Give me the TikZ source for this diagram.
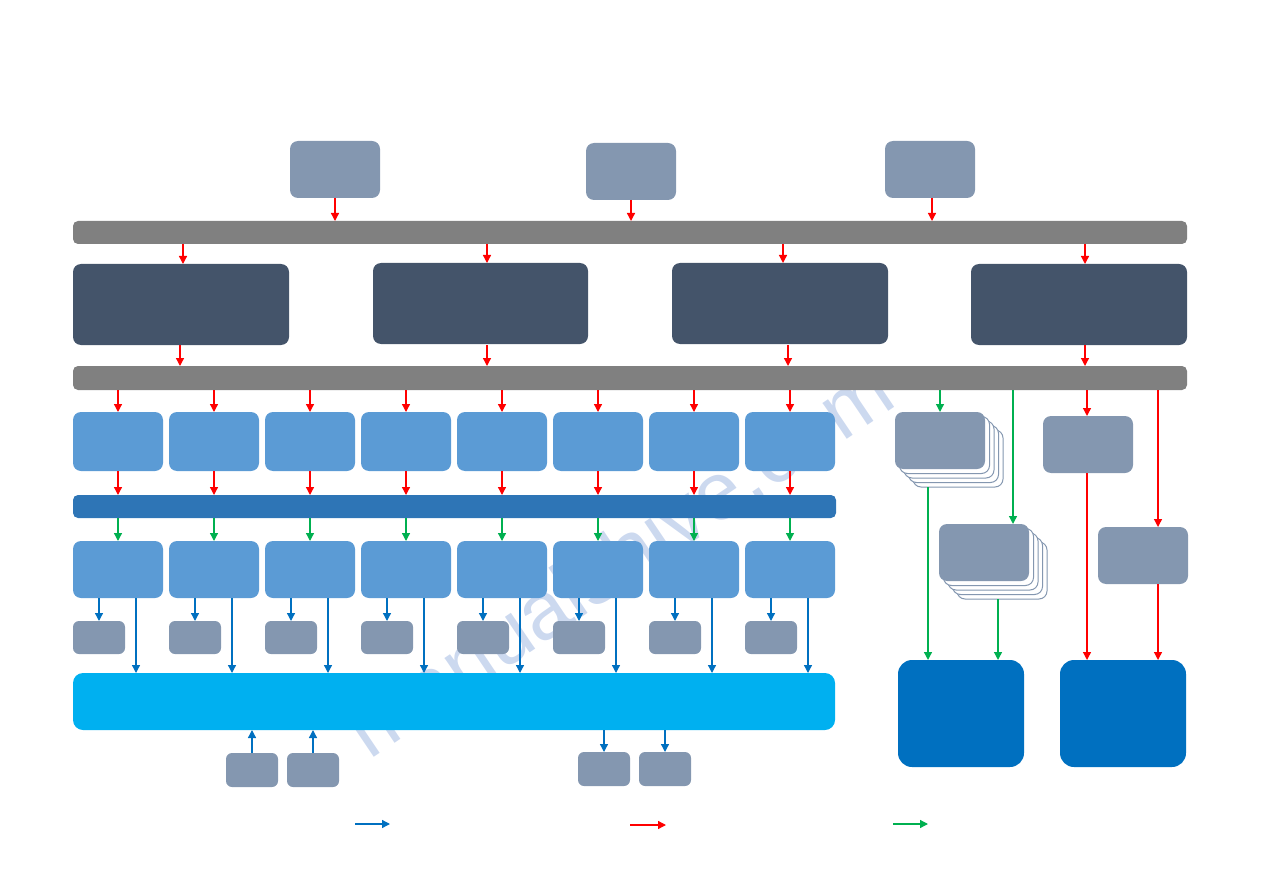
\documentclass[tikz,border=0pt]{standalone}
\usepackage{fontspec}
\setmainfont{Liberation Sans}
\usetikzlibrary{arrows.meta,calc}
\definecolor{gblue}{HTML}{8497B0}
\definecolor{barg}{HTML}{808080}
\definecolor{dslate}{HTML}{44546A}
\definecolor{mblue}{HTML}{5B9BD5}
\definecolor{bbar}{HTML}{2E75B6}
\definecolor{cyanbar}{HTML}{00B0F0}
\definecolor{dblue}{HTML}{0070C0}
\definecolor{ared}{HTML}{FF0000}
\definecolor{agreen}{HTML}{00B050}
\definecolor{ablue}{HTML}{0070C0}
\definecolor{wmark}{HTML}{8FAADC}
\tikzset{
  box/.style={rounded corners=8pt, inner sep=0pt, outer sep=0pt, anchor=north west, draw=none},
  redarr/.style={draw=ared, line width=1.3pt, -{Triangle[width=8pt,length=8pt]}},
  greenarr/.style={draw=agreen, line width=1.3pt, -{Triangle[width=8pt,length=8pt]}},
  bluearr/.style={draw=ablue, line width=1.3pt, -{Triangle[width=8pt,length=8pt]}},
  stackcopy/.style={box, fill=white, draw=gblue, line width=1pt},
}
\begin{document}
\begin{tikzpicture}[x=1pt,y=-1pt]
\useasboundingbox (0,0) rectangle (1263,893);
% watermark
\node[text=wmark, opacity=0.45, rotate=34, font=\fontsize{82}{82}\selectfont] (wm) at (618,558) {manualshive.com};
% top boxes
\node[box, fill=gblue, minimum width=90pt, minimum height=57pt] (t1) at (290,141) {};
\node[box, fill=gblue, minimum width=90pt, minimum height=57pt] (t2) at (586,143) {};
\node[box, fill=gblue, minimum width=90pt, minimum height=57pt] (t3) at (885,141) {};
% bars
\node[box, rounded corners=5pt, fill=barg, minimum width=1114pt, minimum height=23pt] (bar1) at (73,221) {};
\node[box, rounded corners=5pt, fill=barg, minimum width=1114pt, minimum height=24pt] (bar2) at (73,366) {};
\node[box, rounded corners=5pt, fill=bbar, minimum width=763pt, minimum height=23pt] (bar3) at (73,495) {};
\node[box, rounded corners=10pt, fill=cyanbar, minimum width=762pt, minimum height=57pt] (cyan) at (73,673) {};
% dark boxes
\node[box, fill=dslate, minimum width=216pt, minimum height=81pt] (d1) at (73,264) {};
\node[box, fill=dslate, minimum width=215pt, minimum height=81pt] (d2) at (373,263) {};
\node[box, fill=dslate, minimum width=216pt, minimum height=81pt] (d3) at (672,263) {};
\node[box, fill=dslate, minimum width=216pt, minimum height=81pt] (d4) at (971,264) {};
% arrows top
\draw[redarr] (t1.south) -- (t1.south |- bar1.north);
\draw[redarr] (t2.south) -- (t2.south |- bar1.north);
\draw[redarr] ([xshift=2pt]t3.south) -- ([xshift=2pt]t3.south |- bar1.north);
\coordinate (k1) at (183,244); \coordinate (k2) at (487,244); \coordinate (k3) at (783,244); \coordinate (k4) at (1085,244);
\draw[redarr] (k1) -- (k1 |- d1.north);
\draw[redarr] (k2) -- (k2 |- d2.north);
\draw[redarr] (k3) -- (k3 |- d3.north);
\draw[redarr] (k4) -- (k4 |- d4.north);
\coordinate (m1) at (180,345); \coordinate (m2) at (487,345); \coordinate (m3) at (788,345); \coordinate (m4) at (1085,345);
\draw[redarr] (m1) -- (m1 |- bar2.north);
\draw[redarr] (m2) -- (m2 |- bar2.north);
\draw[redarr] (m3) -- (m3 |- bar2.north);
\draw[redarr] (m4) -- (m4 |- bar2.north);
% rows
\foreach \x [count=\i] in {73,169,265,361,457,553,649,745} {
  \node[box, fill=mblue, minimum width=90pt, minimum height=59pt] (ra\i) at (\x,412) {};
  \node[box, fill=mblue, minimum width=90pt, minimum height=57pt] (rb\i) at (\x,541) {};
  \node[box, rounded corners=6pt, fill=gblue, minimum width=52pt, minimum height=33pt] (sm\i) at (\x,621) {};
  \draw[redarr] (ra\i.north |- bar2.south) -- (ra\i.north);
  \draw[redarr] (ra\i.south) -- (ra\i.south |- bar3.north);
  \draw[greenarr] (rb\i.north |- bar3.south) -- (rb\i.north);
  \draw[bluearr] (sm\i.north |- rb\i.south) -- (sm\i.north);
  \draw[bluearr] ([xshift=63pt]rb\i.south west) -- ([xshift=63pt]rb\i.south west |- cyan.north);
}
% bottom small boxes
\node[box, rounded corners=6pt, fill=gblue, minimum width=52pt, minimum height=34pt] (b1) at (226,753) {};
\node[box, rounded corners=6pt, fill=gblue, minimum width=52pt, minimum height=34pt] (b2) at (287,753) {};
\node[box, rounded corners=6pt, fill=gblue, minimum width=52pt, minimum height=34pt] (b3) at (578,752) {};
\node[box, rounded corners=6pt, fill=gblue, minimum width=52pt, minimum height=34pt] (b4) at (639,752) {};
\draw[bluearr] (b1.north) -- (b1.north |- cyan.south);
\draw[bluearr] (b2.north) -- (b2.north |- cyan.south);
\draw[bluearr] (b3.north |- cyan.south) -- (b3.north);
\draw[bluearr] (b4.north |- cyan.south) -- (b4.north);
% right side stacks
\foreach \k in {4,3,2,1} {
  \node[stackcopy, minimum width=90pt, minimum height=57pt] at (895+4.5*\k,412+4.5*\k) {};
}
\node[box, fill=gblue, minimum width=90pt, minimum height=57pt] (s1) at (895,412) {};
\foreach \k in {4,3,2,1} {
  \node[stackcopy, minimum width=90pt, minimum height=57pt] at (939+4.5*\k,524+4.5*\k) {};
}
\node[box, fill=gblue, minimum width=90pt, minimum height=57pt] (s2) at (939,524) {};
\node[box, fill=gblue, minimum width=90pt, minimum height=57pt] (g1) at (1043,416) {};
\node[box, fill=gblue, minimum width=90pt, minimum height=57pt] (g2) at (1098,527) {};
\node[box, rounded corners=14pt, fill=dblue, minimum width=126pt, minimum height=107pt] (big1) at (898,660) {};
\node[box, rounded corners=14pt, fill=dblue, minimum width=126pt, minimum height=107pt] (big2) at (1060,660) {};
% right arrows
\coordinate (r1) at (940,390);
\draw[greenarr] (r1) -- (r1 |- s1.north);
\coordinate (r2) at (1013,390);
\draw[greenarr] (r2) -- (r2 |- s2.north);
\coordinate (r3) at (1087,390);
\draw[redarr] (r3) -- (r3 |- g1.north);
\coordinate (r4) at (1158,390);
\draw[redarr] (r4) -- (r4 |- g2.north);
\coordinate (q1) at (928,487);
\draw[greenarr] (q1) -- (q1 |- big1.north);
\coordinate (q2) at (998,599);
\draw[greenarr] (q2) -- (q2 |- big1.north);
\coordinate (q3) at (1087,473);
\draw[redarr] (q3) -- (q3 |- big2.north);
\coordinate (q4) at (1158,584);
\draw[redarr] (q4) -- (q4 |- big2.north);
% legend
\coordinate (la1) at (355,824); \coordinate (la2) at (390,824);
\draw[bluearr] (la1) -- (la2);
\coordinate (lb1) at (630,825); \coordinate (lb2) at (666,825);
\draw[redarr] (lb1) -- (lb2);
\coordinate (lc1) at (893,824); \coordinate (lc2) at (928,824);
\draw[greenarr] (lc1) -- (lc2);
\end{tikzpicture}
\end{document}
